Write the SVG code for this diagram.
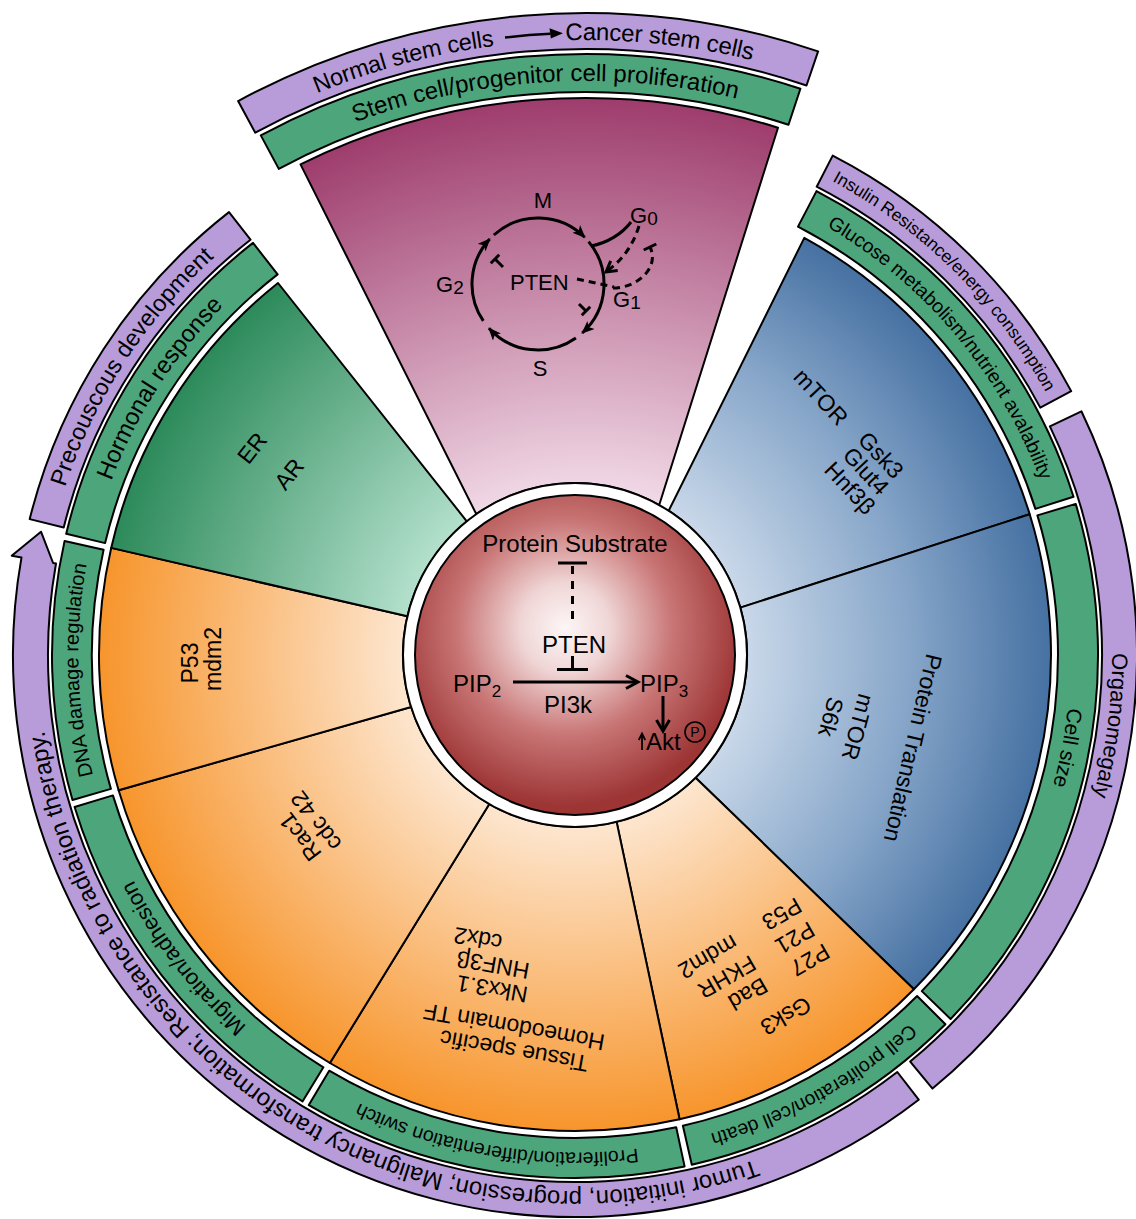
<svg xmlns="http://www.w3.org/2000/svg" width="1136" height="1219" viewBox="0 0 1136 1219">
<defs>
<style>
text{font-family:"Liberation Sans",Arial,Helvetica,sans-serif;fill:#000}
.sec{stroke:#000;stroke-width:2;stroke-linejoin:round}
.gb{fill:#4da57b;stroke:#000;stroke-width:2;stroke-linejoin:round}
.pb{fill:#b79cd9;stroke:#000;stroke-width:2;stroke-linejoin:round}
.sw{font-size:23px;text-anchor:middle;dominant-baseline:central}
.ln{fill:none;stroke:#000;stroke-width:3}
.dash{fill:none;stroke:#000;stroke-width:3;stroke-dasharray:7 5}
.cc{fill:none;stroke:#000;stroke-width:3;marker-end:url(#ah)}
</style>
<radialGradient id="gBlue" gradientUnits="userSpaceOnUse" cx="575" cy="655" r="476"><stop offset="0.36" stop-color="#c9d8e9"/><stop offset="0.7" stop-color="#87a6c9"/><stop offset="1" stop-color="#4671a2"/></radialGradient>
<radialGradient id="gOrange" gradientUnits="userSpaceOnUse" cx="575" cy="655" r="476"><stop offset="0.36" stop-color="#fde6cf"/><stop offset="1" stop-color="#f7952c"/></radialGradient>
<radialGradient id="gGreen" gradientUnits="userSpaceOnUse" cx="575" cy="655" r="476"><stop offset="0.36" stop-color="#b3e0cc"/><stop offset="1" stop-color="#2c8a5a"/></radialGradient>
<radialGradient id="gMag" gradientUnits="userSpaceOnUse" cx="585" cy="740" r="642"><stop offset="0.38" stop-color="#f2dbe8"/><stop offset="1" stop-color="#9e3d6d"/></radialGradient>
<radialGradient id="gCore" gradientUnits="userSpaceOnUse" cx="565" cy="628" r="178"><stop offset="0" stop-color="#fdf6f6"/><stop offset="0.25" stop-color="#f0d6d6"/><stop offset="0.6" stop-color="#c97676"/><stop offset="1" stop-color="#9d3535"/></radialGradient>
<marker id="ah" viewBox="0 0 12 10" refX="11" refY="5" markerWidth="13" markerHeight="11" markerUnits="userSpaceOnUse" orient="auto"><path d="M0,0 L12,5 L0,10 L3,5 z" fill="#000"/></marker>
<path id="tp-insulin" d="M 822.3,175.8 A 539.3 539.3 0 0 1 1051.1,401.8"/>
<path id="tp-glucose" d="M 804.5,214.2 A 497 497 0 0 1 1048.7,504.7"/>
<path id="tp-organo" d="M 1104.0,561.7 A 537.2 537.2 0 0 1 1061.9,882.0"/>
<path id="tp-cellsize" d="M 1070.6,655 A 495.6 495.6 0 0 1 1036.5,835.8"/>
<path id="tp-celldeath" d="M 927.3,1006.1 A 497.4 497.4 0 0 1 686.1,1139.9"/>
<path id="tp-switch" d="M 679.3,1141.4 A 497.4 497.4 0 0 1 321.8,1083.1"/>
<path id="tp-tumor" d="M 755.7,1159.6 A 536 536 0 0 1 43.6,724.9"/>
<path id="tp-migration" d="M 316.8,1078.0 A 495.6 495.6 0 0 1 100.8,799.1"/>
<path id="tp-dna" d="M 97.8,792.7 A 496.7 496.7 0 0 1 90.3,546.7"/>
<path id="tp-hormonal" d="M 93.2,540.2 A 495.3 495.3 0 0 1 270.0,264.7"/>
<path id="tp-precous" d="M 54.1,525.1 A 536.8 536.8 0 0 1 244.5,232.0"/>
<path id="tp-normal" d="M 317.1,93.3 A 700 700 0 0 1 497.3,45.5"/>
<path id="tp-cancer" d="M 565.5,40.3 A 700 700 0 0 1 754.3,60.8"/>
<path id="tp-stem" d="M 355.3,122.3 A 659 659 0 0 1 743.3,100.3"/>
</defs>
<rect width="1136" height="1219" fill="#fff"/>

<!-- top exploded group -->
<g id="band-normal-cancer">
<path class="pb" d="M 238.1,101.1 A 727 727 0 0 1 818.1,51.4 L 806.5,85.5 A 691 691 0 0 0 255.3,132.7 Z"/>
<text font-size="23.5"><textPath href="#tp-normal" textLength="184">Normal stem cells</textPath></text>
<path d="M 505.0,37.5 A 707 707 0 0 1 550.5,33.8" fill="none" stroke="#000" stroke-width="2.5"/>
<polygon points="563,33.2 549.5,28.2 550.8,38.6" fill="#000"/>
<text font-size="24"><textPath href="#tp-cancer" textLength="188">Cancer stem cells</textPath></text>
</g>
<g id="band-stem-prolif">
<path class="gb" d="M 260.8,135.4 A 686 686 0 0 1 800.4,88.7 L 788.5,124.8 A 648 648 0 0 0 278.8,168.9 Z"/>
<text font-size="24"><textPath href="#tp-stem" textLength="388">Stem cell/progenitor cell proliferation</textPath></text>
</g>
<g id="sector-cell-cycle">
<path class="sec" fill="url(#gMag)" d="M 300.5,164.4 A 642 642 0 0 1 778,127.7 L 659.2,505 A 172 172 0 0 0 476.3,514.1 Z"/>
<text x="543" y="208" font-size="22" text-anchor="middle">M</text>
<text x="630" y="223" font-size="22">G<tspan font-size="19" dy="2">0</tspan></text>
<text x="613" y="307" font-size="22">G<tspan font-size="19" dy="2">1</tspan></text>
<text x="436" y="292" font-size="22">G<tspan font-size="19" dy="2">2</tspan></text>
<text x="510" y="290" font-size="22">PTEN</text>
<text x="540" y="376" font-size="22" text-anchor="middle">S</text>
</g>

<!-- sectors -->
<g id="sector-blue-top">
<path class="sec" fill="url(#gBlue)" d="M 668.7,510.7 L 804.3,237.9 A 476 476 0 0 1 1029.7,514.2 L 740.3,607.6 A 172 172 0 0 0 668.7,510.7 Z"/>
<text class="sw" transform="translate(821,397) rotate(47)">mTOR</text>
<text class="sw" transform="translate(881,455) rotate(47)">Gsk3</text>
<text class="sw" transform="translate(866,471) rotate(47)">Glut4</text>
<text class="sw" transform="translate(850,488) rotate(47)">Hnf3β</text>
</g>
<g id="sector-blue-right">
<path class="sec" fill="url(#gBlue)" d="M 740.3,607.6 L 1029.7,514.2 A 476 476 0 0 1 913.9,989.2 L 695.6,777.7 A 172 172 0 0 0 740.3,607.6 Z"/>
<text class="sw" transform="translate(913,748) rotate(103)">Protein Translation</text>
<text class="sw" transform="translate(858,727) rotate(105)">mTOR</text>
<text class="sw" transform="translate(831,717) rotate(105)">S6k</text>
</g>
<g id="sector-bad">
<path class="sec" fill="url(#gOrange)" d="M 695.6,777.7 L 913.9,989.2 A 476 476 0 0 1 679.6,1119.3 L 616.6,821.9 A 172 172 0 0 0 695.6,777.7 Z"/>
<text class="sw" transform="translate(786,1016) rotate(150)">Gsk3</text>
<text class="sw" transform="translate(810,960) rotate(150)">P27</text>
<text class="sw" transform="translate(748,994) rotate(150)">Bad</text>
<text class="sw" transform="translate(795,938) rotate(150)">P21</text>
<text class="sw" transform="translate(727,977) rotate(150)">FKHR</text>
<text class="sw" transform="translate(782,914) rotate(150)">P53</text>
<text class="sw" transform="translate(708,957) rotate(150)">mdm2</text>
</g>
<g id="sector-tissue">
<path class="sec" fill="url(#gOrange)" d="M 616.6,821.9 L 679.6,1119.3 A 476 476 0 0 1 329.9,1063.0 L 489.3,804.1 A 172 172 0 0 0 616.6,821.9 Z"/>
<text class="sw" transform="translate(514,1051) rotate(190)">Tissue specific</text>
<text class="sw" transform="translate(514,1027) rotate(190)">Homeodomain TF</text>
<text class="sw" transform="translate(492,989) rotate(190)">Nkx3.1</text>
<text class="sw" transform="translate(493,965) rotate(190)">HNF3β</text>
<text class="sw" transform="translate(478,939) rotate(190)">cdx2</text>
</g>
<g id="sector-rac1">
<path class="sec" fill="url(#gOrange)" d="M 489.3,804.1 L 329.9,1063.0 A 476 476 0 0 1 118.6,790.2 L 411.1,707.0 A 172 172 0 0 0 489.3,804.1 Z"/>
<text class="sw" transform="translate(300,837) rotate(233)">Rac1</text>
<text class="sw" transform="translate(316,821) rotate(233)">cdc 42</text>
</g>
<g id="sector-p53">
<path class="sec" fill="url(#gOrange)" d="M 411.1,707.0 L 118.6,790.2 A 476 476 0 0 1 111.2,547.9 L 407.4,616.3 A 172 172 0 0 0 411.1,707.0 Z"/>
<text class="sw" transform="translate(190,663) rotate(-90)">P53</text>
<text class="sw" transform="translate(213,659) rotate(-90)">mdm2</text>
</g>
<g id="sector-er">
<path class="sec" fill="url(#gGreen)" d="M 407.4,616.3 L 111.2,547.9 A 476 476 0 0 1 278.0,283.0 L 466.8,521.3 A 172 172 0 0 0 407.4,616.3 Z"/>
<text class="sw" transform="translate(252,448) rotate(-52)">ER</text>
<text class="sw" transform="translate(289,474) rotate(-52)">AR</text>
</g>

<!-- green bands -->
<g id="band-glucose">
<path class="gb" d="M 816.5,191.1 A 523 523 0 0 1 1073.5,496.8 L 1035.4,508.9 A 483 483 0 0 0 798.0,226.6 Z"/>
<text font-size="19.5"><textPath href="#tp-glucose" startOffset="50%" text-anchor="middle">Glucose metabolism/nutrient avalability</textPath></text>
</g>
<g id="band-cell-size">
<path class="gb" d="M 1075.7,503.9 A 523 523 0 0 1 950.6,1019.0 L 921.8,991.1 A 483 483 0 0 0 1037.4,515.4 Z"/>
<text font-size="21"><textPath href="#tp-cellsize" startOffset="50%" text-anchor="middle">Cell size</textPath></text>
</g>
<g id="band-cell-death">
<path class="gb" d="M 945.4,1024.2 A 523 523 0 0 1 691.8,1164.8 L 682.9,1125.8 A 483 483 0 0 0 917.1,996.0 Z"/>
<text font-size="19.5"><textPath href="#tp-celldeath" startOffset="50%" text-anchor="middle">Cell proliferation/cell death</textPath></text>
</g>
<g id="band-switch">
<path class="gb" d="M 684.6,1166.4 A 523 523 0 0 1 308.8,1105.1 L 329.2,1070.7 A 483 483 0 0 0 676.2,1127.3 Z"/>
<text font-size="19.5"><textPath href="#tp-switch" startOffset="50%" text-anchor="middle">Proliferation/differentiation switch</textPath></text>
</g>
<g id="band-migration">
<path class="gb" d="M 302.5,1101.4 A 523 523 0 0 1 74.6,807.0 L 112.9,795.4 A 483 483 0 0 0 323.4,1067.3 Z"/>
<text font-size="22"><textPath href="#tp-migration" startOffset="50%" text-anchor="middle">Migration/adhesion</textPath></text>
</g>
<g id="band-dna">
<path class="gb" d="M 72.5,800.0 A 523 523 0 0 1 64.6,540.9 L 103.6,549.7 A 483 483 0 0 0 110.9,788.9 Z"/>
<text font-size="20"><textPath href="#tp-dna" startOffset="50%" text-anchor="middle">DNA damage regulation</textPath></text>
</g>
<g id="band-hormonal">
<path class="gb" d="M 66.2,533.8 A 523 523 0 0 1 253.0,242.9 L 277.6,274.4 A 483 483 0 0 0 105.1,543.1 Z"/>
<text font-size="24"><textPath href="#tp-hormonal" startOffset="50%" text-anchor="middle">Hormonal response</textPath></text>
</g>

<!-- purple bands -->
<g id="band-insulin">
<path class="pb" d="M 832.7,155.6 A 562 562 0 0 1 1071.2,391.1 L 1040.3,407.6 A 527 527 0 0 0 816.7,186.7 Z"/>
<text font-size="17.5"><textPath href="#tp-insulin" startOffset="50%" text-anchor="middle">Insulin Resistance/energy consumption</textPath></text>
</g>
<g id="band-organomegaly">
<path class="pb" d="M 1081.4,411.3 A 562 562 0 0 1 932.5,1088.6 L 910.2,1061.6 A 527 527 0 0 0 1049.9,426.4 Z"/>
<text font-size="22"><textPath href="#tp-organo" startOffset="50%" text-anchor="middle">Organomegaly</textPath></text>
</g>
<g id="band-tumor">
<path class="pb" d="M 918.7,1099.7 A 562 562 0 0 1 21.5,557.4 L 11.7,555.7 L 41.0,531.7 L 53.1,563.0 L 56.0,563.5 A 527 527 0 0 0 897.3,1072.0 Z"/>
<text font-size="24"><textPath href="#tp-tumor" textLength="950">Tumor initiation, progression; Malignancy transformation; Resistance to radiation therapy.</textPath></text>
</g>
<g id="band-precocious">
<path class="pb" d="M 29.7,519.1 A 562 562 0 0 1 229.0,212.1 L 250.5,239.7 A 527 527 0 0 0 63.7,527.5 Z"/>
<text font-size="23.5"><textPath href="#tp-precous" startOffset="50%" text-anchor="middle">Precouscous development</textPath></text>
</g>

<!-- core -->
<g id="core">
<circle cx="575" cy="655" r="172" fill="#fff" stroke="#000" stroke-width="2"/>
<circle cx="575" cy="655" r="160" fill="url(#gCore)" stroke="#000" stroke-width="2"/>
<text x="575" y="552" font-size="24" text-anchor="middle">Protein Substrate</text>
<text x="574" y="653" font-size="24" text-anchor="middle">PTEN</text>
<text x="453" y="692" font-size="24">PIP<tspan font-size="17" dy="5">2</tspan></text>
<text x="640" y="692" font-size="24">PIP<tspan font-size="17" dy="5">3</tspan></text>
<text x="568" y="713" font-size="24" text-anchor="middle">PI3k</text>
<text x="646" y="750" font-size="24">Akt</text>
<circle cx="695" cy="732" r="10" fill="none" stroke="#000" stroke-width="1.6"/>
<text x="695" y="737" font-size="14" text-anchor="middle">P</text>
</g>

<!-- connectors -->
<g id="connectors">
<line class="ln" x1="558" y1="563" x2="587" y2="563"/>
<line x1="572.5" y1="566" x2="572.5" y2="619" stroke="#000" stroke-width="3" stroke-dasharray="8 7"/>
<line class="ln" x1="572.5" y1="656" x2="572.5" y2="669"/>
<line class="ln" x1="557" y1="669.5" x2="588" y2="669.5"/>
<line class="ln" x1="513" y1="682" x2="636" y2="682"/>
<polyline class="ln" points="626,675.5 638,682 626,688.5"/>
<line class="ln" x1="663" y1="696" x2="663" y2="729"/>
<polyline class="ln" points="656.5,720 663,731 669.5,720"/>
<line x1="642" y1="750" x2="642" y2="735" stroke="#000" stroke-width="1.8"/>
<polyline points="638.8,740 642,733.5 645.2,740" fill="none" stroke="#000" stroke-width="1.8"/>

<path class="cc" d="M 493.8,235 A 66 66 0 0 1 584.7,237.3"/>
<path class="cc" d="M 588.6,241.6 A 66 66 0 0 1 582.2,333.0"/>
<path class="cc" d="M 575.9,338.1 A 66 66 0 0 1 489.0,328.2"/>
<path class="cc" d="M 483.3,320.9 A 66 66 0 0 1 489.7,239.0"/>
<path class="ln" d="M 631,222 C 622,234 607,243 591,246"/>
<path class="dash" d="M 639,226 Q 630,255 607,271"/>
<polyline class="ln" points="617.7,270.6 606,272 610.7,260.8"/>
<path class="dash" d="M 613,288 C 637,288 660,268 650,247"/>
<line class="ln" x1="643.7" y1="250" x2="656.3" y2="244"/>
<line x1="577" y1="279" x2="614" y2="287" stroke="#000" stroke-width="3" stroke-dasharray="7 5"/>
<line class="ln" x1="503" y1="267" x2="495" y2="259"/>
<line class="ln" x1="499.2" y1="254.8" x2="490.8" y2="263.2"/>
<line class="ln" x1="579" y1="304" x2="586" y2="311"/>
<line class="ln" x1="590.2" y1="306.8" x2="581.8" y2="315.2"/>
</g>
</svg>
